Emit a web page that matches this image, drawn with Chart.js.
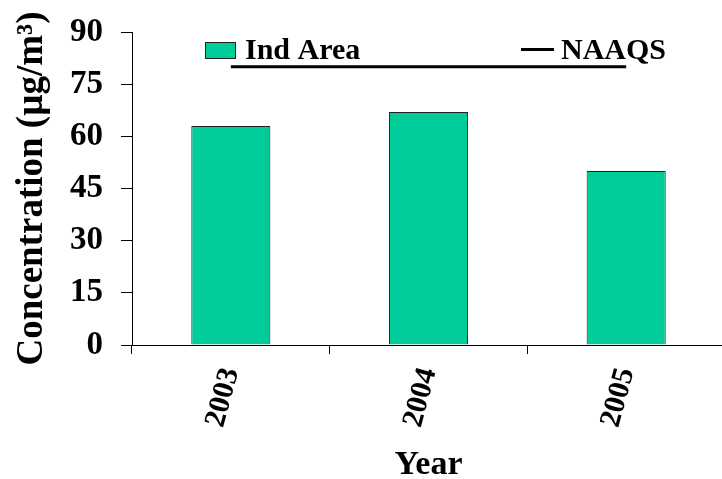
<!DOCTYPE html>
<html>
<head>
<meta charset="utf-8">
<script src="https://cdn.jsdelivr.net/npm/chart.js@4.4.1/dist/chart.umd.min.js"></script>
<style>
  html, body { margin: 0; padding: 0; background: #ffffff; overflow: hidden; }
  #wrap { width: 725px; height: 479px; }
</style>
</head>
<body>
<div id="wrap"><canvas id="chart" width="725" height="479"></canvas></div>
<script>
// Annual concentration at the industrial area vs. the NAAQS limit
const years = ['2003', '2004', '2005'];
const indArea = [63, 67, 50];
const naaqs = [80, 80, 80];
const yTicks = [0, 15, 30, 45, 60, 75, 90];

const SERIF = '"Liberation Serif", "Times New Roman", serif';
const BAR_FILL = '#00CC99';

// Legend drawn inside the plot, across the top
const innerLegend = {
  id: 'innerLegend',
  afterDraw(chart) {
    const ctx = chart.ctx;
    const ds = chart.data.datasets;
    ctx.save();
    ctx.font = 'bold 30px ' + SERIF;
    ctx.textBaseline = 'alphabetic';
    ctx.textAlign = 'left';
    // bar swatch
    ctx.fillStyle = ds[0].backgroundColor;
    ctx.fillRect(205.5, 42.5, 30, 16);
    ctx.strokeStyle = '#222';
    ctx.lineWidth = 1;
    ctx.strokeRect(205.5, 42.5, 30, 16);
    ctx.fillStyle = '#000';
    ctx.fillText(ds[0].label, 245, 59);
    // line swatch
    ctx.strokeStyle = ds[1].borderColor;
    ctx.lineWidth = 3;
    ctx.beginPath();
    ctx.moveTo(521, 49.5);
    ctx.lineTo(554, 49.5);
    ctx.stroke();
    ctx.fillText(ds[1].label, 561, 59);
    ctx.restore();
  }
};

new Chart(document.getElementById('chart'), {
  data: {
    labels: years,
    datasets: [
      {
        type: 'bar',
        label: 'Ind Area',
        data: indArea,
        backgroundColor: BAR_FILL,
        borderColor: '#222',
        borderWidth: 1,
        categoryPercentage: 1.0,
        barPercentage: 0.4,
        order: 2
      },
      {
        type: 'line',
        label: 'NAAQS',
        data: naaqs,
        borderColor: '#000',
        borderWidth: 3,
        pointRadius: 0,
        fill: false,
        order: 1
      }
    ]
  },
  options: {
    responsive: false,
    animation: false,
    devicePixelRatio: 1,
    layout: { padding: { top: 32, right: 0, bottom: 0, left: 0 } },
    plugins: {
      legend: { display: false },
      tooltip: { enabled: false }
    },
    scales: {
      x: {
        offset: true,
        grid: {
          offset: true,
          drawOnChartArea: false,
          drawTicks: true,
          tickLength: 9,
          color: '#000',
          lineWidth: 1
        },
        border: { display: true, color: '#000', width: 1 },
        ticks: {
          color: '#000',
          font: { family: SERIF, size: 30, weight: 'bold' },
          minRotation: 75,
          maxRotation: 75,
          padding: 10
        },
        title: {
          display: true,
          text: 'Year',
          color: '#000',
          font: { family: SERIF, size: 34, weight: 'bold', lineHeight: 0.8 },
          padding: { top: 0, bottom: 0 }
        },
        afterFit(scale) {
          scale.height = 134;
          scale.paddingLeft = 0;
          scale.paddingRight = 0;
        }
      },
      y: {
        min: 0,
        max: 90,
        afterBuildTicks(scale) { scale.ticks = yTicks.map(v => ({ value: v })); },
        grid: {
          drawOnChartArea: false,
          drawTicks: true,
          tickLength: 11,
          color: '#000',
          lineWidth: 1
        },
        border: { display: true, color: '#000', width: 1 },
        ticks: {
          color: '#000',
          font: { family: SERIF, size: 33, weight: 'bold' },
          padding: 18
        },
        title: {
          display: true,
          text: 'Concentration (µg/m³)',
          color: '#000',
          font: { family: SERIF, size: 37, weight: 'bold' },
          padding: { top: 10, bottom: 0 }
        },
        afterFit(scale) {
          scale.width = 132;
          scale.paddingTop = 0;
          scale.paddingBottom = 0;
        }
      }
    }
  },
  plugins: [innerLegend]
});
</script>
</body>
</html>
